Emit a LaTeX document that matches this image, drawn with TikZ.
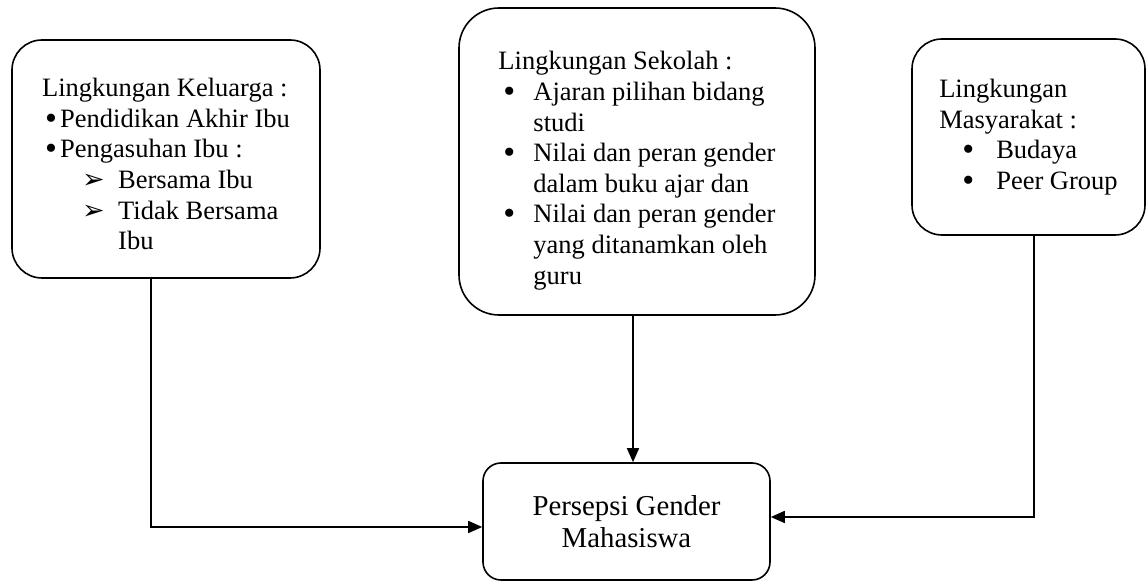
\documentclass[tikz,border=0pt]{standalone}
\usepackage{fontspec}
\setmainfont{Liberation Serif}
\newfontfamily\dingfont{DejaVu Sans}
\usetikzlibrary{arrows.meta}

% bullet and arrow items: indent, then the mark in a box of given width
\newcommand{\bul}[2]{\hspace*{#1}\makebox[#2][l]{\smash{\raisebox{-1pt}{\fontsize{17}{17}\selectfont\textbullet}}}}
\newcommand{\arr}[2]{\hspace*{#1}\makebox[#2][l]{\smash{\dingfont\fontsize{13.5}{13.5}\selectfont ➢}}}

\begin{document}
\begin{tikzpicture}[>={Triangle[length=7pt,width=6pt]}, x=0.5pt, y=-0.5pt,
    box/.style={draw, thick, align=left, inner sep=0pt,
      font=\fontsize{13.25}{15.3}\selectfont}]
    \useasboundingbox (0,0) rectangle (1148,581);

    % Three environments on top
    \node[box, rounded corners=15pt, minimum width=154pt, minimum height=119pt] (kel) at (166,159)
      {\rule{0pt}{14.3pt}Lingkungan Keluarga :\\
       \bul{1.5pt}{7.5pt}Pendidikan Akhir Ibu\\
       \bul{1.5pt}{7.5pt}Pengasuhan Ibu :\\
       \arr{20pt}{18pt}Bersama Ibu\\
       \arr{20pt}{18pt}Tidak Bersama\\
       \hspace*{38pt}Ibu};
    \node[box, rounded corners=20pt, minimum width=178pt, minimum height=153.5pt] (sek) at (637,161.5)
      {\rule{0pt}{18.3pt}Lingkungan Sekolah :\\
       \bul{2.5pt}{15pt}Ajaran pilihan bidang\\
       \hspace*{17.5pt}studi\\
       \bul{2.5pt}{15pt}Nilai dan peran gender\\
       \hspace*{17.5pt}dalam buku ajar dan\\
       \bul{2.5pt}{15pt}Nilai dan peran gender\\
       \hspace*{17.5pt}yang ditanamkan oleh\\
       \hspace*{17.5pt}guru};
    \node[box, rounded corners=15pt, minimum width=116.5pt, minimum height=98pt] (mas) at (1028.5,137)
      {Lingkungan\\
       Masyarakat :\\
       \bul{11.5pt}{17pt}Budaya\\
       \bul{11.5pt}{17pt}Peer Group};

    % Result
    \node[box, rounded corners=9pt, align=center, minimum width=143.5pt, minimum height=58.5pt,
      font=\fontsize{14.4}{16}\selectfont] (mhs) at (626.5,521.5) {Persepsi Gender\\ Mahasiswa};

    % Arrows
    \draw[->, thick] ([xshift=-7.5pt]kel.south) |- ([yshift=-2.75pt]mhs.west);
    \draw[->, thick] ([xshift=-2pt]sek.south) -- ([xshift=-2pt]sek.south |- mhs.north);
    \draw[->, thick] ([xshift=2.75pt]mas.south) |- ([yshift=2.25pt]mhs.east);
\end{tikzpicture}
\end{document}
